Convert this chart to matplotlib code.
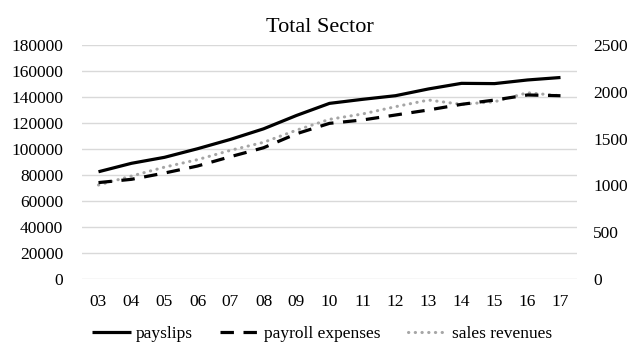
import matplotlib
matplotlib.use("Agg")
import matplotlib.pyplot as plt

# years (two digit labels as on the chart)
years = ["03", "04", "05", "06", "07", "08", "09", "10",
         "11", "12", "13", "14", "15", "16", "17"]

# left axis
payslips = [82500, 89000, 93600, 100200, 107400, 115500, 125800, 135100,
            138200, 141000, 146200, 150500, 150300, 153100, 155000]

# right axis
payroll_expenses = [1030, 1065, 1132, 1207, 1307, 1402, 1552, 1663,
                    1699, 1752, 1806, 1866, 1912, 1966, 1958]
sales_revenues = [1004, 1100, 1195, 1275, 1375, 1460, 1590, 1706,
                  1763, 1841, 1912, 1866, 1894, 1990, 1958]

left_ticks = [0, 20000, 40000, 60000, 80000, 100000, 120000, 140000, 160000, 180000]
right_ticks = [0, 500, 1000, 1500, 2000, 2500]

plt.rcParams['font.family'] = ['Liberation Serif', 'DejaVu Serif']

fig = plt.figure(figsize=(6.32, 3.43), dpi=100)
ax = fig.add_axes([82/632, 1 - 279/343, 495/632, 234/343])
ax2 = ax.twinx()

x = list(range(len(years)))

l1, = ax.plot(x, payslips, color="black", lw=2.3, solid_capstyle="butt",
              label="payslips", zorder=3)
l2, = ax2.plot(x, payroll_expenses, color="black", lw=2.3,
               linestyle=(0, (4.2, 3.0)), label="payroll expenses", zorder=3)
l3, = ax2.plot(x, sales_revenues, color="#a6a6a6", lw=2.2,
               linestyle=(0, (0.1, 2.1)), dash_capstyle="round",
               label="sales revenues", zorder=2)

ax.set_xlim(-0.5, len(years) - 0.5)
ax.set_ylim(0, 180000)
ax2.set_ylim(0, 2500)
ax.set_yticks(left_ticks)
ax2.set_yticks(right_ticks)
ax.set_xticks(x)
ax.set_xticklabels(years)

ax.yaxis.grid(True, color="#d9d9d9", lw=1.0)
ax.set_axisbelow(True)

for a in (ax, ax2):
    for s in a.spines.values():
        s.set_visible(False)

ax.tick_params(axis="y", length=0, pad=13.5, labelsize=12.5)
ax.tick_params(axis="x", length=0, pad=11, labelsize=12.5)
ax2.tick_params(axis="y", length=0, pad=11.5, labelsize=12.5)

fig.text(320/632, 1 - 32/343, "Total Sector", ha="center", va="baseline",
         fontsize=16)

fig.legend(handles=[l1, l2, l3], loc="center", ncol=3, frameon=False,
           bbox_to_anchor=(322/632, 1 - 334/343), fontsize=12.5,
           handlelength=2.2, handletextpad=0.3, columnspacing=1.6,
           borderaxespad=0, borderpad=0)

fig.savefig("out.png", dpi=100)
